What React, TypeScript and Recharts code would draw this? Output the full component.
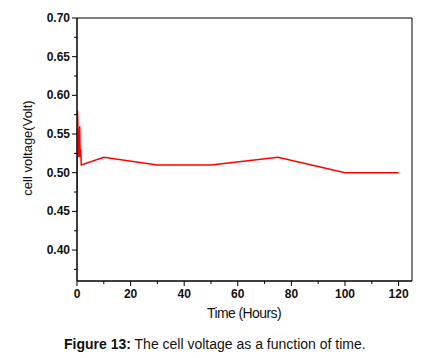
import { LineChart, Line, XAxis, YAxis, ReferenceArea } from 'recharts';

// time in hours, cell voltage in volt
const hours = [0, 0.2, 0.6, 1.0, 1.2, 1.4, 1.6, 10, 30, 50, 75, 100, 120];
const voltage = [0.45, 0.58, 0.52, 0.56, 0.52, 0.53, 0.51, 0.52, 0.51, 0.51, 0.52, 0.5, 0.5];

const xTicks = [0, 10, 20, 30, 40, 50, 60, 70, 80, 90, 100, 110, 120];
const yTicks = [0.375, 0.4, 0.425, 0.45, 0.475, 0.5, 0.525, 0.55, 0.575, 0.6, 0.625, 0.65, 0.675, 0.7];

const data = hours.map((t, i) => ({ t, v: voltage[i] }));

const font = '"Liberation Sans", Arial, sans-serif';

function XTick(props: any) {
  const { x, y, payload } = props;
  const major = payload.value % 20 === 0;
  return (
    <g>
      <line x1={x} x2={x} y1={y} y2={y + (major ? 5 : 3)} stroke="#000" strokeWidth={1} />
      {major && (
        <text x={x} y={y + 17} textAnchor="middle" fontSize={12} fontWeight="bold" fontFamily={font} fill="#111">
          {payload.value}
        </text>
      )}
    </g>
  );
}

function YTick(props: any) {
  const { x, y, payload } = props;
  const k = Math.round(payload.value * 1000);
  const major = k % 50 === 0;
  return (
    <g>
      <line x1={x} x2={x - (major ? 5 : 3)} y1={y} y2={y} stroke="#000" strokeWidth={1} />
      {major && (
        <text x={x - 7} y={y + 4} textAnchor="end" fontSize={12} fontWeight="bold" fontFamily={font} fill="#111">
          {(k / 1000).toFixed(2)}
        </text>
      )}
    </g>
  );
}

export default function App() {
  return (
    <div style={{ position: 'absolute', left: 0, top: 0, width: 423, height: 358, background: '#fff' }}>
      <LineChart width={423} height={358} data={data} margin={{ top: 18, right: 11, left: 17, bottom: 47 }}>
        <XAxis
          dataKey="t"
          type="number"
          domain={[0, 125]}
          ticks={xTicks}
          tick={<XTick />}
          tickSize={0}
          tickMargin={0}
          tickLine={false}
          axisLine={{ stroke: '#000', strokeWidth: 1 }}
          height={30}
          interval={0}
          allowDataOverflow
        />
        <YAxis
          type="number"
          domain={[0.36, 0.7]}
          ticks={yTicks}
          tick={<YTick />}
          tickSize={0}
          tickMargin={0}
          tickLine={false}
          axisLine={{ stroke: '#000', strokeWidth: 1 }}
          width={60}
          interval={0}
          allowDataOverflow
        />
        <ReferenceArea x1={0} x2={125} y1={0.36} y2={0.7} fill="none" stroke="#000" strokeWidth={1} fillOpacity={0} />
        <Line
          type="linear"
          dataKey="v"
          stroke="#ff0000"
          strokeWidth={1.5}
          dot={false}
          isAnimationActive={false}
        />
      </LineChart>
      <div
        style={{
          position: 'absolute',
          left: 27,
          top: 148,
          transform: 'translate(-50%, -50%) rotate(-90deg)',
          whiteSpace: 'nowrap',
          fontFamily: font,
          fontSize: 13,
          color: '#111',
        }}
      >
        cell voltage(Volt)
      </div>
      <div
        style={{
          position: 'absolute',
          left: 244,
          top: 313,
          transform: 'translate(-50%, -50%)',
          whiteSpace: 'nowrap',
          fontFamily: font,
          fontSize: 14,
          letterSpacing: -0.6,
          color: '#111',
        }}
      >
        Time (Hours)
      </div>
      <div
        style={{
          position: 'absolute',
          left: 64,
          top: 336,
          whiteSpace: 'nowrap',
          fontFamily: font,
          fontSize: 14,
          color: '#111',
        }}
      >
        <b>Figure 13:</b> The cell voltage as a function of time.
      </div>
    </div>
  );
}
